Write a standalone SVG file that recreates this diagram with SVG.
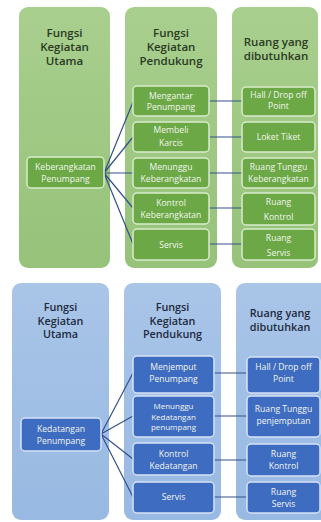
<svg xmlns="http://www.w3.org/2000/svg" width="321" height="522" viewBox="0 0 321 522">
<defs>
<linearGradient id="gcol" x1="0" y1="0" x2="0" y2="1"><stop offset="0" stop-color="#a9cf8e"/><stop offset="1" stop-color="#96c27a"/></linearGradient>
<linearGradient id="bcol" x1="0" y1="0" x2="0" y2="1"><stop offset="0" stop-color="#a9c5e8"/><stop offset="1" stop-color="#98b9e2"/></linearGradient>
<style>
.gc{fill:url(#gcol);}
.bc{fill:url(#bcol);}
.gb{fill:#6ca846;stroke:#d9ebcb;stroke-width:1.5;}
.bb{fill:#3e6cc0;stroke:#d6e2f5;stroke-width:1.5;}
.h{font-family:"Open Sans","Liberation Sans",sans-serif;font-size:11.5px;font-weight:600;text-anchor:middle;}
.hg{fill:#2b3a26;}
.hb{fill:#1e2a3e;font-size:10.8px;}
.t{font-family:"Open Sans","Liberation Sans",sans-serif;font-size:8.6px;fill:#f2f6ee;text-anchor:middle;}
.s{font-size:8px;}
.ln{stroke:#34508a;stroke-width:1.2;fill:none;}
</style>
</defs>
<g id="green-columns">
<rect class="gc" x="19" y="7" width="91" height="261" rx="9"/>
<rect class="gc" x="125" y="7" width="92" height="261" rx="9"/>
<rect class="gc" x="232" y="7" width="86" height="261" rx="9"/>
<text class="h hg"><tspan x="64.5" y="37">Fungsi</tspan><tspan x="64.5" y="51">Kegiatan</tspan><tspan x="64.5" y="65">Utama</tspan></text>
<text class="h hg"><tspan x="171" y="37">Fungsi</tspan><tspan x="171" y="51">Kegiatan</tspan><tspan x="171" y="65">Pendukung</tspan></text>
<text class="h hg"><tspan x="276" y="45.5">Ruang yang</tspan><tspan x="276" y="59.5">dibutuhkan</tspan></text>
</g>
<g id="blue-columns">
<rect class="bc" x="12" y="283" width="97" height="237" rx="9"/>
<rect class="bc" x="124" y="283" width="97" height="237" rx="9"/>
<rect class="bc" x="236" y="283" width="100" height="237" rx="9"/>
<text class="h hb"><tspan x="60.5" y="311">Fungsi</tspan><tspan x="60.5" y="324.5">Kegiatan</tspan><tspan x="60.5" y="338">Utama</tspan></text>
<text class="h hb"><tspan x="172.5" y="311">Fungsi</tspan><tspan x="172.5" y="324.5">Kegiatan</tspan><tspan x="172.5" y="338">Pendukung</tspan></text>
<text class="h hb"><tspan x="280" y="317">Ruang yang</tspan><tspan x="280" y="330.5">dibutuhkan</tspan></text>
</g>
<g id="connectors">
<path class="ln" d="M104 173L133 102M104 173L133 137M104 173L133 173M104 173L133 208M104 173L133 244"/>
<path class="ln" d="M209 101H242M209 137H242M209 173H242M209 208H242M209 244H242"/>
<path class="ln" d="M101 434L133 373M101 434L133 416M101 434L133 459M101 434L133 497"/>
<path class="ln" d="M214 373H247M214 416H247M214 460H247M214 497H247"/>
</g>
<g id="n-keberangkatan">
<rect class="gb" x="27" y="157" width="77" height="31" rx="4"/>
<text class="t"><tspan x="65.5" y="170">Keberangkatan</tspan><tspan x="65.5" y="182">Penumpang</tspan></text>
</g>
<g id="n-mengantar">
<rect class="gb" x="133" y="86" width="76" height="30" rx="4"/>
<text class="t"><tspan x="171" y="98.5">Mengantar</tspan><tspan x="171" y="109.5">Penumpang</tspan></text>
</g>
<g id="n-membeli">
<rect class="gb" x="133" y="122" width="76" height="30" rx="4"/>
<text class="t"><tspan x="171" y="133">Membeli</tspan><tspan x="171" y="146">Karcis</tspan></text>
</g>
<g id="n-menunggu-b">
<rect class="gb" x="133" y="158" width="76" height="30" rx="4"/>
<text class="t"><tspan x="171" y="170">Menunggu</tspan><tspan x="171" y="181.5">Keberangkatan</tspan></text>
</g>
<g id="n-kontrol-b">
<rect class="gb" x="133" y="193" width="76" height="31" rx="4"/>
<text class="t"><tspan x="171" y="206">Kontrol</tspan><tspan x="171" y="217.5">Keberangkatan</tspan></text>
</g>
<g id="n-servis-b">
<rect class="gb" x="133" y="229" width="76" height="31" rx="4"/>
<text class="t" x="171" y="247.5">Servis</text>
</g>
<g id="n-hall-b">
<rect class="gb" x="242" y="87" width="73" height="29" rx="4"/>
<text class="t"><tspan x="278.5" y="98">Hall / Drop off</tspan><tspan x="278.5" y="109">Point</tspan></text>
</g>
<g id="n-loket">
<rect class="gb" x="242" y="122" width="73" height="30" rx="4"/>
<text class="t" x="278.5" y="140">Loket Tiket</text>
</g>
<g id="n-tunggu-b">
<rect class="gb" x="242" y="158" width="73" height="30" rx="4"/>
<text class="t"><tspan x="278.5" y="170">Ruang Tunggu</tspan><tspan x="278.5" y="182">Keberangkatan</tspan></text>
</g>
<g id="n-rkontrol-b">
<rect class="gb" x="242" y="193" width="73" height="32" rx="4"/>
<text class="t"><tspan x="278.5" y="204.5">Ruang</tspan><tspan x="278.5" y="219.5">Kontrol</tspan></text>
</g>
<g id="n-rservis-b">
<rect class="gb" x="242" y="229" width="73" height="31" rx="4"/>
<text class="t"><tspan x="278.5" y="240.5">Ruang</tspan><tspan x="278.5" y="255.5">Servis</tspan></text>
</g>
<g id="n-kedatangan">
<rect class="bb" x="21" y="418" width="80" height="33" rx="4"/>
<text class="t"><tspan x="61" y="432">Kedatangan</tspan><tspan x="61" y="443.5">Penumpang</tspan></text>
</g>
<g id="n-menjemput">
<rect class="bb" x="133" y="356" width="81" height="37" rx="4"/>
<text class="t"><tspan x="173.5" y="370">Menjemput</tspan><tspan x="173.5" y="381.5">Penumpang</tspan></text>
</g>
<g id="n-menunggu-k">
<rect class="bb" x="133" y="396" width="81" height="41" rx="4"/>
<text class="t s"><tspan x="173.5" y="409">Menunggu</tspan><tspan x="173.5" y="419.5">Kedatangan</tspan><tspan x="173.5" y="430">penumpang</tspan></text>
</g>
<g id="n-kontrol-k">
<rect class="bb" x="133" y="443" width="81" height="32" rx="4"/>
<text class="t"><tspan x="173.5" y="457">Kontrol</tspan><tspan x="173.5" y="468.5">Kedatangan</tspan></text>
</g>
<g id="n-servis-k">
<rect class="bb" x="133" y="482" width="81" height="31" rx="4"/>
<text class="t" x="173.5" y="499.5">Servis</text>
</g>
<g id="n-hall-k">
<rect class="bb" x="247" y="357" width="73" height="36" rx="4"/>
<text class="t"><tspan x="283.5" y="370">Hall / Drop off</tspan><tspan x="283.5" y="381.5">Point</tspan></text>
</g>
<g id="n-tunggu-k">
<rect class="bb" x="247" y="396" width="73" height="41" rx="4"/>
<text class="t"><tspan x="283.5" y="412">Ruang Tunggu</tspan><tspan x="283.5" y="423.5">penjemputan</tspan></text>
</g>
<g id="n-rkontrol-k">
<rect class="bb" x="247" y="444" width="73" height="32" rx="4"/>
<text class="t"><tspan x="283.5" y="457">Ruang</tspan><tspan x="283.5" y="469">Kontrol</tspan></text>
</g>
<g id="n-rservis-k">
<rect class="bb" x="247" y="482" width="73" height="31" rx="4"/>
<text class="t"><tspan x="283.5" y="495">Ruang</tspan><tspan x="283.5" y="506.5">Servis</tspan></text>
</g>
</svg>
